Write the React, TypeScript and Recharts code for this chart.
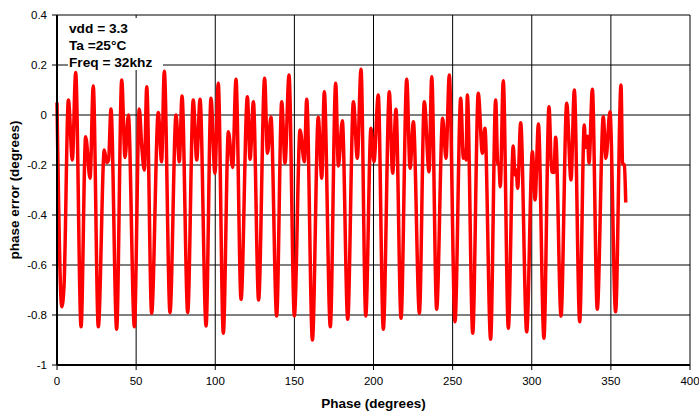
import React from "react";
import {
  LineChart,
  Line,
  XAxis,
  YAxis,
  CartesianGrid,
} from "recharts";

// Phase in degrees (peaks, troughs and shoulders)
const phase = [
  0.0, 3.0, 4.4, 7.2, 9.7, 11.8, 15.2, 18.1, 20.9, 22.9,
  26.1, 29.9, 31.3, 32.6, 34.1, 37.7, 40.9, 43.0, 45.1, 48.9,
  52.0, 53.5, 55.2, 56.7, 59.8, 64.0, 66.1, 67.8, 71.4, 75.2,
  77.3, 79.0, 82.6, 86.1, 88.3, 90.4, 94.2, 97.3, 99.8, 101.9,
  105.1, 108.3, 111.0, 113.1, 116.3, 120.3, 122.0, 124.1, 127.4, 131.2,
  133.0, 135.2, 138.8, 142.0, 144.1, 146.6, 150.0, 153.6, 156.3, 157.8,
  161.4, 165.1, 167.3, 168.9, 172.7, 176.1, 177.8, 180.3, 183.7, 187.3,
  189.8, 192.1, 195.1, 198.4, 200.3, 203.0, 206.2, 210.0, 212.1, 214.2,
  217.4, 221.0, 223.1, 225.2, 229.0, 232.1, 235.1, 236.8, 239.9, 243.7,
  245.8, 247.9, 251.5, 255.1, 256.8, 257.8, 258.5, 259.3, 262.7, 266.2,
  268.8, 270.4, 274.0, 277.2, 278.5, 279.3, 280.1, 282.0, 285.2, 288.3,
  289.4, 290.2, 291.1, 293.0, 296.8, 300.4, 302.1, 304.2, 307.7, 310.9,
  312.6, 314.0, 315.1, 318.5, 322.1, 324.8, 326.9, 330.3, 333.2, 334.0,
  335.2, 336.2, 338.3, 341.4, 345.2, 346.9, 349.4, 353.0, 356.4, 357.4,
  358.5, 359.4,
];

// Phase error in degrees, one value per phase entry
const phaseError = [
  0.05, -0.767, -0.69, 0.06, -0.18, 0.17, -0.847, -0.087, -0.253, 0.116,
  -0.847, -0.14, -0.19, -0.18, 0.024, -0.857, 0.14, -0.17, 0.0, -0.847,
  0.024, -0.12, -0.22, 0.113, -0.793, 0.01, -0.187, 0.175, -0.79, 0.0,
  -0.187, 0.076, -0.79, 0.06, -0.18, 0.063, -0.844, 0.067, -0.233, 0.127,
  -0.873, -0.067, -0.21, 0.143, -0.737, 0.073, -0.177, 0.053, -0.74, 0.147,
  -0.153, -0.008, -0.804, 0.053, -0.193, 0.16, -0.804, -0.06, -0.187, 0.063,
  -0.9, -0.009, -0.253, 0.093, -0.847, 0.127, -0.204, -0.023, -0.817, 0.053,
  -0.173, 0.183, -0.804, -0.053, -0.187, 0.08, -0.857, 0.093, -0.233, 0.023,
  -0.813, 0.143, -0.213, -0.027, -0.793, 0.053, -0.227, 0.153, -0.777, -0.013,
  -0.173, 0.16, -0.827, 0.067, -0.173, -0.14, -0.18, 0.08, -0.873, 0.087,
  -0.153, -0.053, -0.897, 0.06, -0.193, -0.2, -0.287, 0.137, -0.853, -0.124,
  -0.24, -0.22, -0.293, -0.031, -0.867, -0.147, -0.34, -0.036, -0.893, 0.033,
  -0.227, -0.23, -0.089, -0.804, 0.047, -0.26, 0.1, -0.827, -0.04, -0.13,
  -0.085, -0.193, 0.103, -0.777, -0.007, -0.173, 0.013, -0.787, 0.12, -0.193,
  -0.2, -0.35,
];

const xTicks = [0, 50, 100, 150, 200, 250, 300, 350, 400];
const yTicks = [-1, -0.8, -0.6, -0.4, -0.2, 0, 0.2, 0.4];
const notes = ["vdd = 3.3", "Ta =25°C", "Freq = 32khz"];

const data = phase.map((p, i) => ({ phase: p, error: phaseError[i] }));

const FONT = "'Liberation Sans', Arial, sans-serif";

const App: React.FC = () => {
  return (
    <div style={{ position: "absolute", left: 0, top: 0, width: 699, height: 414, background: "#fff", fontFamily: FONT }}>
      <LineChart
        width={699}
        height={414}
        data={data}
        margin={{ top: 15, right: 9, left: 0, bottom: 0 }}
      >
        <CartesianGrid stroke="#000" strokeWidth={1} />
        <XAxis
          dataKey="phase"
          type="number"
          domain={[0, 400]}
          ticks={xTicks}
          height={49}
          axisLine={{ stroke: "#000", strokeWidth: 2 }}
          tickLine={{ stroke: "#000" }}
          tickSize={5}
          tickMargin={7}
          tick={{ fontSize: 11.5, fill: "#000", fontFamily: FONT }}
          label={{
            value: "Phase (degrees)",
            position: "insideBottom",
            offset: 6,
            style: { fontSize: 13.5, fontWeight: "bold", fill: "#000", fontFamily: FONT },
          }}
        />
        <YAxis
          type="number"
          domain={[-1, 0.4]}
          ticks={yTicks}
          width={57}
          axisLine={{ stroke: "#000", strokeWidth: 2 }}
          tickLine={{ stroke: "#000" }}
          tickSize={5}
          tickMargin={5}
          tick={{ fontSize: 11.5, fill: "#000", fontFamily: FONT }}
          label={{
            value: "phase error (degrees)",
            angle: -90,
            position: "insideLeft",
            offset: 14,
            style: { textAnchor: "middle", fontSize: 13.5, fontWeight: "bold", fill: "#000", fontFamily: FONT },
          }}
        />
        <Line
          dataKey="error"
          type="monotone"
          stroke="#ff0000"
          strokeWidth={3.5}
          dot={false}
          isAnimationActive={false}
        />
      </LineChart>

      {/* condition box over the top-left of the plot */}
      <div
        style={{
          position: "absolute",
          left: 68,
          top: 18,
          width: 95,
          height: 52,
          background: "#fff",
          paddingLeft: 1,
          paddingTop: 2,
          boxSizing: "border-box",
          fontSize: 13.7,
          fontWeight: "bold",
          lineHeight: "17px",
        }}
      >
        {notes.map((n) => (
          <div key={n} style={{ whiteSpace: "nowrap" }}>{n}</div>
        ))}
      </div>
    </div>
  );
};

export default App;
